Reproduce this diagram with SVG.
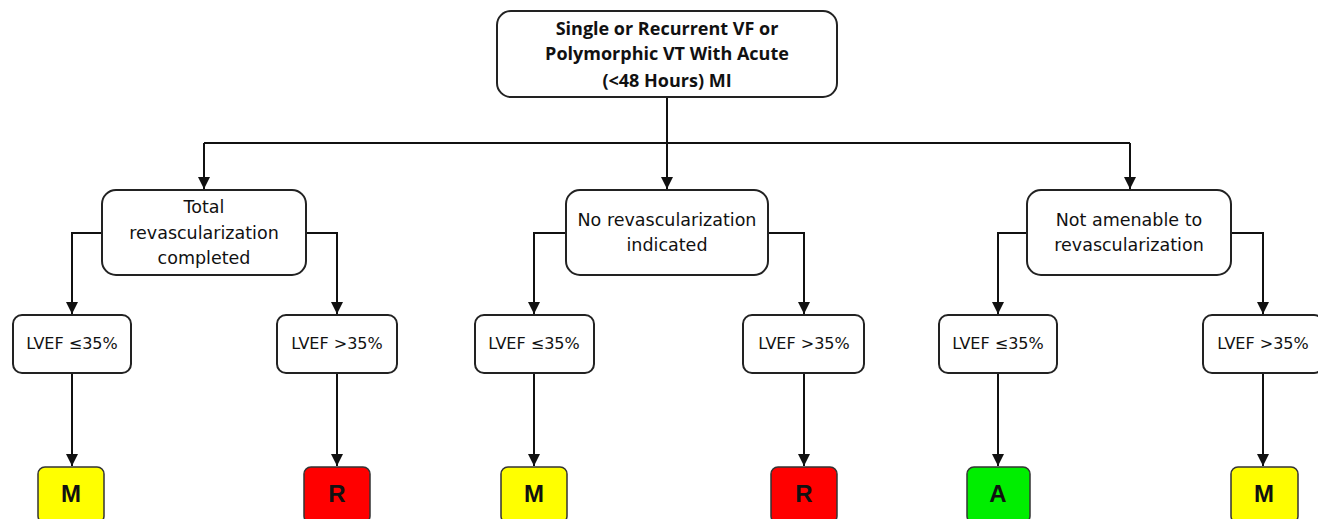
<svg xmlns="http://www.w3.org/2000/svg" width="1318" height="519" viewBox="0 0 1318 519">
<style>
.box{fill:#fff;stroke:#222;stroke-width:2}
.t{font-family:"DejaVu Sans",Verdana,sans-serif;font-size:17.5px;fill:#111;text-anchor:middle}
.s{font-family:"DejaVu Sans",Verdana,sans-serif;font-size:16px;fill:#111;text-anchor:middle}
.tb{font-family:"Open Sans","Liberation Sans",sans-serif;font-weight:bold;font-size:18px;fill:#111;text-anchor:middle}
.lt{font-family:"Liberation Sans",Arial,sans-serif;font-weight:bold;font-size:24px;fill:#111;text-anchor:middle}
.c{fill:none;stroke:#111;stroke-width:2}
.yel{fill:#ffff00;stroke:#333;stroke-width:1.5}
.red{fill:#ff0000;stroke:#333;stroke-width:1.5}
.grn{fill:#00ee00;stroke:#333;stroke-width:1.5}
</style>
<defs>
<marker id="ah" markerUnits="userSpaceOnUse" markerWidth="12" markerHeight="12" refX="12" refY="6" orient="auto">
<path d="M0,0 L12,6 L0,12 z" fill="#111"/>
</marker>
</defs>
<g id="connectors">
<path class="c" d="M667,97 V189" marker-end="url(#ah)"/>
<path class="c" d="M204,143 H1130"/>
<path class="c" d="M204,143 V189" marker-end="url(#ah)"/>
<path class="c" d="M1130,143 V189" marker-end="url(#ah)"/>
<path class="c" d="M102,233 H72 V314" marker-end="url(#ah)"/>
<path class="c" d="M306,233 H337 V314" marker-end="url(#ah)"/>
<path class="c" d="M566,233 H534 V314" marker-end="url(#ah)"/>
<path class="c" d="M768,233 H804 V314" marker-end="url(#ah)"/>
<path class="c" d="M1027,233 H998 V314" marker-end="url(#ah)"/>
<path class="c" d="M1231,233 H1263 V314" marker-end="url(#ah)"/>
<path class="c" d="M72,373 V466" marker-end="url(#ah)"/>
<path class="c" d="M337,373 V466" marker-end="url(#ah)"/>
<path class="c" d="M534,373 V466" marker-end="url(#ah)"/>
<path class="c" d="M804,373 V466" marker-end="url(#ah)"/>
<path class="c" d="M998,373 V466" marker-end="url(#ah)"/>
<path class="c" d="M1263,373 V466" marker-end="url(#ah)"/>
</g>
<g id="root">
<rect class="box" x="497" y="11" width="340" height="86" rx="14"/>
<text class="tb" x="667" y="35">Single or Recurrent VF or</text>
<text class="tb" x="667" y="60">Polymorphic VT With Acute</text>
<text class="tb" x="667" y="87">(&lt;48 Hours) MI</text>
</g>
<g id="total">
<rect class="box" x="102" y="190" width="204" height="85" rx="14"/>
<text class="t" x="204" y="213">Total</text>
<text class="t" x="204" y="239">revascularization</text>
<text class="t" x="204" y="264">completed</text>
</g>
<g id="norevasc">
<rect class="box" x="566" y="190" width="202" height="85" rx="14"/>
<text class="t" x="667" y="226">No revascularization</text>
<text class="t" x="667" y="251">indicated</text>
</g>
<g id="notamenable">
<rect class="box" x="1027" y="190" width="204" height="85" rx="14"/>
<text class="t" x="1129" y="226">Not amenable to</text>
<text class="t" x="1129" y="251">revascularization</text>
</g>
<g id="lvef1">
<rect class="box" x="13" y="315" width="118" height="58" rx="9"/>
<text class="s" x="72" y="349">LVEF ≤35%</text>
</g>
<g id="lvef2">
<rect class="box" x="277" y="315" width="120" height="58" rx="9"/>
<text class="s" x="337" y="349">LVEF &gt;35%</text>
</g>
<g id="lvef3">
<rect class="box" x="475" y="315" width="119" height="58" rx="9"/>
<text class="s" x="534" y="349">LVEF ≤35%</text>
</g>
<g id="lvef4">
<rect class="box" x="743" y="315" width="121" height="58" rx="9"/>
<text class="s" x="804" y="349">LVEF &gt;35%</text>
</g>
<g id="lvef5">
<rect class="box" x="939" y="315" width="118" height="58" rx="9"/>
<text class="s" x="998" y="349">LVEF ≤35%</text>
</g>
<g id="lvef6">
<rect class="box" x="1203" y="315" width="120" height="58" rx="9"/>
<text class="s" x="1263" y="349">LVEF &gt;35%</text>
</g>
<g id="out1">
<rect class="yel" x="38" y="467" width="66" height="56" rx="7"/>
<text class="lt" x="71" y="502">M</text>
</g>
<g id="out2">
<rect class="red" x="304" y="467" width="66" height="56" rx="7"/>
<text class="lt" x="337" y="502">R</text>
</g>
<g id="out3">
<rect class="yel" x="501" y="467" width="66" height="56" rx="7"/>
<text class="lt" x="534" y="502">M</text>
</g>
<g id="out4">
<rect class="red" x="771" y="467" width="66" height="56" rx="7"/>
<text class="lt" x="804" y="502">R</text>
</g>
<g id="out5">
<rect class="grn" x="967" y="467" width="63" height="56" rx="7"/>
<text class="lt" x="998" y="502">A</text>
</g>
<g id="out6">
<rect class="yel" x="1231" y="467" width="67" height="56" rx="7"/>
<text class="lt" x="1264" y="502">M</text>
</g>
</svg>
